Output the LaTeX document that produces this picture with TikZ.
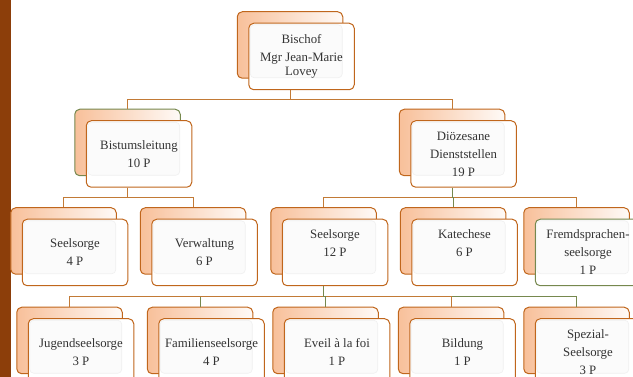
\documentclass[tikz,border=0pt]{standalone}
\usepackage{fontspec}
\setmainfont{Liberation Serif}
\usepackage{tikz}
\usetikzlibrary{positioning,shadows}

\definecolor{rim}{HTML}{C0661C}
\definecolor{peach}{HTML}{F8C09A}
\definecolor{olive}{HTML}{76884E}
\definecolor{wire}{HTML}{C27A36}
\definecolor{ink}{HTML}{333333}
\definecolor{bar}{HTML}{8C3E0A}

\begin{document}
\begin{tikzpicture}[x=1pt,y=1pt,node distance=31pt]
\tikzset{
  unit/.style={draw=rim,line width=1pt,fill=white,rounded corners=5pt,
    minimum width=105.5pt,minimum height=66.5pt,inner sep=0pt,
    align=center,text=ink,font=\fontsize{12.8}{18}\selectfont,
    copy shadow={shadow xshift=-11.5pt,shadow yshift=11.5pt,draw=#1,
      line width=1pt,left color=peach,right color=peach!8},
    path picture={\draw[draw=black!6,fill=black!1.5,line width=0.6pt,rounded corners=4pt]
      ([shift={(1.5pt,-1.5pt)}]path picture bounding box.north west) rectangle
      ([shift={(-12pt,12pt)}]path picture bounding box.south east);}},
  unit/.default=rim,
  link/.style={draw=wire,line width=0.9pt},
  glink/.style={draw=olive,line width=0.9pt}
}
\useasboundingbox (0,0) rectangle (633,-377);
\clip (0,0) rectangle (633,-377);
\fill[bar] (0,0) rectangle (11,-377);

% top
\node[unit] (bischof) at (301.5,-56.5) {Bischof\\Mgr Jean-Marie\\[-4pt]Lovey};
\node[unit=olive] (bistum) [below=30pt of bischof,xshift=-162.5pt] {Bistumsleitung\\10 P};
\node[unit] (dioez) [right=218pt of bistum] {Diözesane\\Dienststellen\\19 P};

% second level
\node[unit] (seel4) [below=of bistum,xshift=-64pt] {Seelsorge\\4 P};
\node[unit] (verw) [right=23pt of seel4] {Verwaltung\\6 P};
\node[unit] (seel12) [right=24pt of verw] {Seelsorge\\12 P\\\mbox{}};
\node[unit] (kat) [right=23pt of seel12] {Katechese\\6 P\\\mbox{}};
\node[unit,draw=olive] (fremd) [right=17pt of kat] {Fremdsprachen-\\seelsorge\\1 P};

% Seelsorge
\node[unit] (jugend) [below=32pt of seel4,xshift=6pt] {Jugendseelsorge\\3 P};
\node[unit] (fam) [right=24pt of jugend] {Familienseelsorge\\4 P};
\node[unit] (eveil) [right=19pt of fam] {Eveil à la foi\\1 P};
\node[unit] (bild) [right=19pt of eveil] {Bildung\\1 P};
\node[unit] (spez) [right=19pt of bild] {Spezial-\\Seelsorge\\3 P};

\draw[link] ([xshift=-11.5pt]bischof.south) -- ++(0,-9pt) -| ([shift={(-11.5pt,11.5pt)}]bistum.north);
\draw[link] ([xshift=-11.5pt]bischof.south) -- ++(0,-9pt) -| ([shift={(-11.5pt,11.5pt)}]dioez.north);

\draw[link] ([xshift=-11.5pt]bistum.south) -- ++(0,-10pt) -| ([shift={(-11.5pt,11.5pt)}]seel4.north);
\draw[link] ([xshift=-11.5pt]bistum.south) -- ++(0,-10pt) -| ([shift={(-11.5pt,11.5pt)}]verw.north);

\draw[link] ([xshift=-11.5pt]dioez.south) -- ++(0,-10pt) -| ([shift={(-11.5pt,11.5pt)}]seel12.north);
\draw[link] ([xshift=-11.5pt]dioez.south) -- ++(0,-10pt) -| ([shift={(-11.5pt,11.5pt)}]fremd.north);
\draw[glink] ([xshift=-11.5pt]dioez.south) -- ++(0,-10pt) -| ([shift={(-11.5pt,11.5pt)}]kat.north);

\draw[glink] ([xshift=-11.5pt]seel12.south) -- ++(0,-10pt) -| ([shift={(-11.5pt,11.5pt)}]spez.north);
\draw[link] ([xshift=-11.5pt]seel12.south) -- ++(0,-10pt) -| ([shift={(-11.5pt,11.5pt)}]bild.north);
\draw[glink] ([xshift=-11.5pt]seel12.south) -- ++(0,-10pt) -| ([shift={(-11.5pt,11.5pt)}]fam.north);
\draw[link] ([xshift=-11.5pt]seel12.south) -- ++(0,-10pt) -| ([shift={(-11.5pt,11.5pt)}]jugend.north);
\draw[glink] ([xshift=-11.5pt]seel12.south) -- ++(0,-10pt) -| ([shift={(-11.5pt,11.5pt)}]eveil.north);
\end{tikzpicture}
\end{document}
